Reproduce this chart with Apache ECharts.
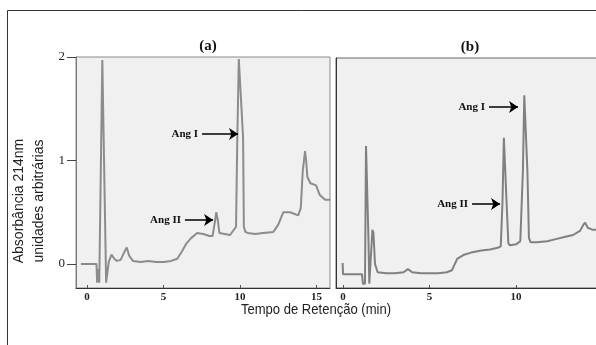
<!DOCTYPE html>
<html>
<head>
<meta charset="utf-8">
<script src="https://cdn.jsdelivr.net/npm/echarts@6/dist/echarts.min.js"></script>
<style>
  html, body { margin: 0; padding: 0; background: #fff; }
  #chart { width: 596px; height: 345px; }
</style>
</head>
<body>
<div id="chart"></div>
<script>
// Cromatograma (a): tempo (min) e absorbância (u.a.)
const timeA = [-0.4, 0.62, 0.66, 0.74, 0.8, 0.88, 1.0, 1.1, 1.25, 1.32, 1.42, 1.6, 1.78, 1.95, 2.2, 2.45, 2.6, 2.75, 3.0, 3.5, 4.0, 4.5, 5.0, 5.5, 5.9, 6.2, 6.5, 6.8, 7.2, 7.6, 8.0, 8.2, 8.35, 8.45, 8.55, 8.65, 9.0, 9.35, 9.74, 9.82, 9.92, 10.0, 10.2, 10.25, 10.35, 10.5, 11.0, 11.5, 12.18, 12.5, 12.83, 13.27, 13.8, 13.97, 14.1, 14.25, 14.32, 14.4, 14.6, 14.97, 15.2, 15.56, 15.9];
const absA  = [0.0, 0.0, -0.18, -0.05, -0.18, -0.18, 1.97, 1.97, -0.18, -0.18, 0.02, 0.09, 0.05, 0.03, 0.04, 0.12, 0.16, 0.08, 0.03, 0.02, 0.03, 0.02, 0.02, 0.03, 0.05, 0.12, 0.2, 0.25, 0.3, 0.29, 0.27, 0.27, 0.4, 0.5, 0.42, 0.3, 0.29, 0.28, 0.36, 1.2, 1.98, 1.98, 1.22, 0.36, 0.31, 0.3, 0.29, 0.3, 0.31, 0.38, 0.5, 0.5, 0.47, 0.54, 0.9, 1.09, 1.0, 0.84, 0.78, 0.76, 0.67, 0.62, 0.62];

// Cromatograma (b)
const timeB = [-0.02, 0.0, 1.1, 1.15, 1.27, 1.33, 1.4, 1.47, 1.52, 1.6, 1.7, 1.76, 1.85, 2.0, 2.5, 3.0, 3.5, 3.75, 4.0, 4.5, 5.0, 5.5, 6.0, 6.3, 6.6, 7.0, 7.4, 8.0, 8.5, 9.0, 9.12, 9.22, 9.3, 9.38, 9.48, 9.56, 9.65, 10.0, 10.25, 10.4, 10.48, 10.56, 10.66, 10.75, 10.85, 11.2, 11.8, 12.3, 12.8, 13.3, 13.7, 13.9, 14.0, 14.15, 14.45, 14.8];
const absB  = [0.01, -0.1, -0.1, -0.19, -0.19, 1.14, 1.14, 0.25, -0.19, -0.19, 0.33, 0.3, 0.0, -0.08, -0.09, -0.09, -0.08, -0.05, -0.08, -0.09, -0.09, -0.09, -0.08, -0.06, 0.05, 0.09, 0.11, 0.13, 0.14, 0.16, 0.17, 0.6, 1.22, 1.22, 0.5, 0.2, 0.18, 0.19, 0.22, 0.9, 1.63, 1.63, 0.9, 0.25, 0.21, 0.21, 0.22, 0.24, 0.26, 0.28, 0.32, 0.38, 0.4, 0.35, 0.33, 0.33];

// Marcas dos eixos
const xTicks = [0, 5, 10, 15];
const yTicks = [0, 1, 2];

// Setas de identificação: [rótulo, t inicial, t final, absorbância]
const arrowsA = [['Ang I', 7.52, 9.87, 1.256], ['Ang II', 6.4, 8.24, 0.425]];
const arrowsB = [['Ang I', 8.44, 10.12, 1.517], ['Ang II', 7.46, 9.08, 0.58]];

const chart = echarts.init(document.getElementById('chart'));

const serif = "'Liberation Serif', 'Times New Roman', serif";
const sans = "'Liberation Sans', Arial, sans-serif";

function pairs(ts, vs) {
    return ts.map(function (t, i) { return [t, vs[i]]; });
}

function arrowLines(list) {
    return list.map(function (a) {
        return [
            { name: a[0], coord: [a[1], a[3]] },
            { coord: [a[2], a[3]] }
        ];
    });
}

function xAxisFor(idx, min, max) {
    return {
        type: 'value', gridIndex: idx, min: min, max: max,
        splitLine: { show: false },
        axisLine: { show: true, onZero: false, lineStyle: { color: '#333', width: 1 } },
        axisTick: { show: true, inside: true, length: 3, customValues: xTicks, lineStyle: { color: '#555' } },
        axisLabel: {
            customValues: xTicks, margin: 4,
            fontFamily: serif, fontSize: 11, fontWeight: 'bold', color: '#222'
        }
    };
}

function traceSeries(idx, data, color, arrows) {
    return {
        type: 'line', xAxisIndex: idx, yAxisIndex: idx,
        data: data, showSymbol: false, symbol: 'none',
        lineStyle: { color: color, width: 2 },
        markLine: {
            silent: true,
            symbol: ['none', 'arrow'], symbolSize: 9,
            lineStyle: { color: '#000', width: 1.5, type: 'solid' },
            label: {
                position: 'start', formatter: '{b}', distance: 4,
                fontFamily: serif, fontSize: 11, fontWeight: 'bold', color: '#111'
            },
            data: arrowLines(arrows)
        }
    };
}

chart.setOption({
    animation: false,
    backgroundColor: '#fff',
    grid: [
        { left: 76, top: 57, width: 254, height: 231, show: true, outerBoundsMode: 'none',
          backgroundColor: '#eff0ef', borderColor: '#8a8a8a', borderWidth: 1 },
        { left: 336, top: 58, width: 272, height: 230, show: true, outerBoundsMode: 'none',
          backgroundColor: '#eff0ef', borderColor: '#666', borderWidth: 1 }
    ],
    xAxis: [
        xAxisFor(0, -0.72, 15.88),
        xAxisFor(1, -0.405, 15.32)
    ],
    yAxis: [
        {
            type: 'value', gridIndex: 0, min: -0.232, max: 2,
            splitLine: { show: false },
            axisLine: { show: true, onZero: false, lineStyle: { color: '#777' } },
            axisTick: { show: true, length: 9, customValues: yTicks, lineStyle: { color: '#444' } },
            axisLabel: { customValues: yTicks, margin: 11, fontFamily: serif, fontSize: 13, color: '#222' }
        },
        {
            type: 'value', gridIndex: 1, min: -0.232, max: 1.99,
            splitLine: { show: false },
            axisLine: { show: true, onZero: false, lineStyle: { color: '#333' } },
            axisTick: { show: false },
            axisLabel: { show: false }
        }
    ],
    series: [
        traceSeries(0, pairs(timeA, absA), '#8c8c8c', arrowsA),
        traceSeries(1, pairs(timeB, absB), '#808080', arrowsB)
    ],
    graphic: [
        { type: 'line', shape: { x1: 7.5, y1: 10.5, x2: 7.5, y2: 345 }, style: { stroke: '#333', lineWidth: 1 } },
        { type: 'line', shape: { x1: 7.5, y1: 10.5, x2: 596, y2: 10.5 }, style: { stroke: '#333', lineWidth: 1 } },
        { type: 'text', x: 208, y: 46, style: { text: '(a)', align: 'center', verticalAlign: 'middle',
            font: 'bold 15px ' + serif, fill: '#111' } },
        { type: 'text', x: 470, y: 47, style: { text: '(b)', align: 'center', verticalAlign: 'middle',
            font: 'bold 15px ' + serif, fill: '#111' } },
        { type: 'text', x: 29, y: 201, rotation: Math.PI / 2,
          style: { text: 'Absorbância 214nm\nunidades arbitrárias', align: 'center', verticalAlign: 'middle',
            font: '14px ' + sans, lineHeight: 20, fill: '#222' } },
        { type: 'text', x: 316, y: 310, scaleX: 0.87,
          style: { text: 'Tempo de Retenção (min)', align: 'center', verticalAlign: 'middle',
            font: '15px ' + sans, fill: '#222' } }
    ]
});

window.addEventListener('resize', function () {
    chart.resize();
});
</script>
</body>
</html>
